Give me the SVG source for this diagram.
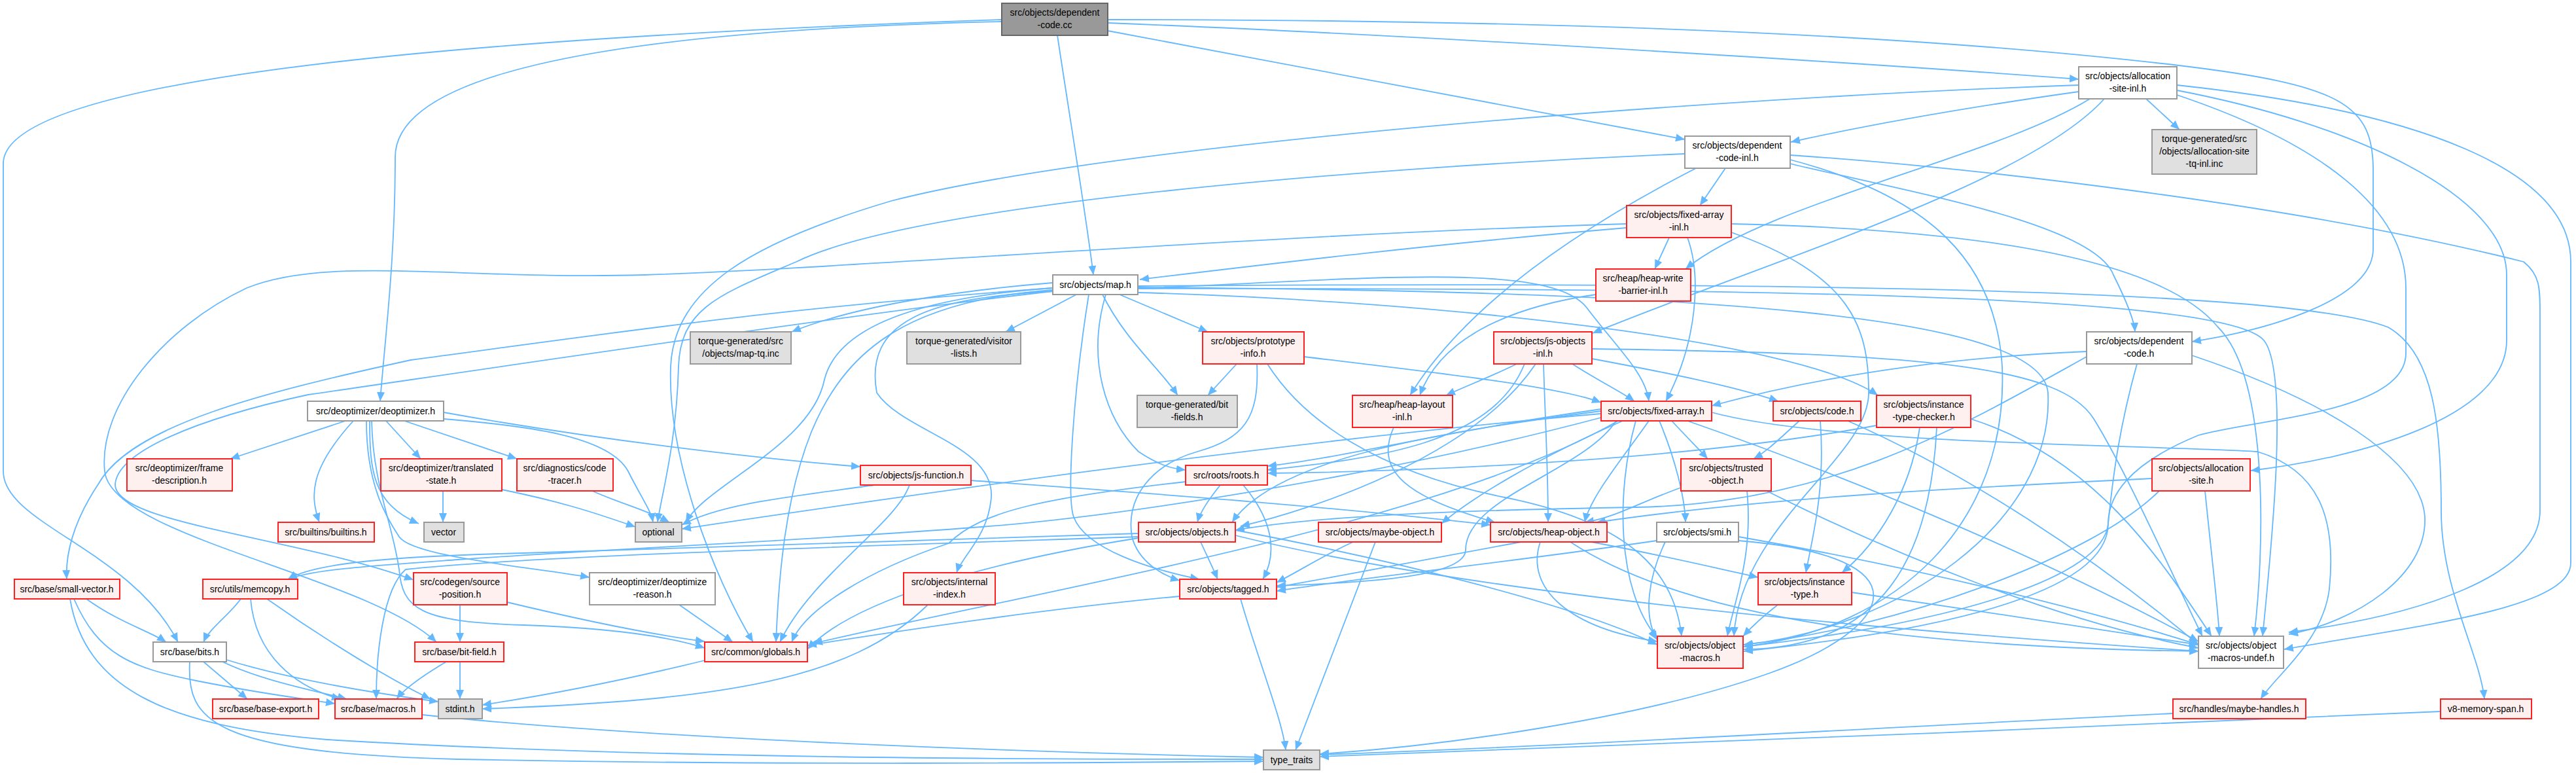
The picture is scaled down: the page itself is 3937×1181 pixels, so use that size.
<svg xmlns="http://www.w3.org/2000/svg" width="3937" height="1181" viewBox="0 0 3937 1181">
<defs>
<marker id="a" markerUnits="userSpaceOnUse" markerWidth="16" markerHeight="12" refX="14" refY="6" orient="auto"><path d="M0,0 L14,6 L0,12 Z" fill="#63b8ff"/></marker>
<style>
.e{fill:none;stroke:#63b8ff;stroke-width:1.8;marker-end:url(#a)}
.w{fill:#ffffff;stroke:#999999;stroke-width:2}
.r{fill:#fff0f0;stroke:#ff2020;stroke-width:2}
.g{fill:#e0e0e0;stroke:#999999;stroke-width:2}
.root{fill:#999999;stroke:#666666;stroke-width:2}
text{font-family:"Liberation Sans",Arial,sans-serif;font-size:14px;fill:#000;text-anchor:middle}
</style>
</defs>
<rect width="3937" height="1181" fill="#ffffff"/>
<g id="edges">
<path class="e" d="M1693,35 C2200,55 2900,100 3177,121"/>
<path class="e" d="M1693,47 C2000,105 2350,170 2575,213"/>
<path class="e" d="M1616,54 C1635,180 1660,330 1671,420"/>
<path class="e" d="M1531,33 C1000,45 604,100 604,240 C604,400 588,520 581,613"/>
<path class="e" d="M1531,30 C800,55 5,110 5,250 L5,720 C5,800 200,840 272,981"/>
<path class="e" d="M1693,30 C2400,30 2950,55 3330,100 C3580,130 3627,160 3627,260 L3627,380 C3627,460 3460,505 3350,522"/>
<path class="e" d="M3280,151 L3331,198"/>
<path class="e" d="M3177,140 C3000,165 2850,192 2737,217"/>
<path class="e" d="M3194,151 C3050,240 2700,310 2576,411"/>
<path class="e" d="M3216,151 C3100,280 2700,400 2434,509"/>
<path class="e" d="M3327,138 C3600,190 3831,300 3831,420 L3831,520 C3831,640 3600,700 3440,719"/>
<path class="e" d="M3327,130 C3700,170 3929,260 3929,400 L3929,860 C3929,930 3700,955 3491,992"/>
<path class="e" d="M3327,145 C3550,220 3677,320 3677,440 L3677,540 C3677,630 3450,640 3360,665 C3250,710 3222,760 3222,800 C3222,900 3000,960 2665,995"/>
<path class="e" d="M3177,130 C2600,150 1700,220 1362,307 C1150,370 1030,440 1025,560 C1020,700 1090,880 1151,981"/>
<path class="e" d="M2637,257 L2598,314"/>
<path class="e" d="M2736,250 C2900,290 3200,340 3230,420 C3250,460 3262,490 3263,507"/>
<path class="e" d="M2592,257 C2450,330 2250,450 2155,604"/>
<path class="e" d="M2575,235 C2100,255 1400,310 1217,400 C1100,450 1040,470 1037,560 C1034,680 1010,760 1005,798"/>
<path class="e" d="M2736,237 C3000,255 3500,310 3857,400 C3882,420 3882,440 3882,480 L3882,780 C3882,880 3700,940 3498,966"/>
<path class="e" d="M2736,244 C2950,300 3050,400 3060,560 C3070,800 2900,960 2665,988"/>
<path class="e" d="M2551,363 L2529,411"/>
<path class="e" d="M2486,348 C2200,372 1950,402 1742,427"/>
<path class="e" d="M2579,363 C2600,420 2595,520 2546,613"/>
<path class="e" d="M2486,342 C1900,360 1300,410 985,420 C700,428 500,390 377,440 C250,500 150,620 160,720 C170,820 560,880 667,981"/>
<path class="e" d="M2646,342 C3000,350 3300,390 3390,500 C3470,580 3460,850 3445,972"/>
<path class="e" d="M2646,355 C2830,420 2856,500 2856,600 C2856,700 2660,800 2650,972"/>
<path class="e" d="M2439,450 C2300,470 2200,520 2170,604"/>
<path class="e" d="M1609,432 C1450,445 1300,470 1210,507"/>
<path class="e" d="M1645,450 L1537,507"/>
<path class="e" d="M1711,450 L1846,507"/>
<path class="e" d="M1685,450 C1720,520 1770,560 1800,604"/>
<path class="e" d="M1609,440 C1200,470 1000,500 628,550 C400,600 200,650 150,740 C110,800 100,850 102,885"/>
<path class="e" d="M1739,441 C2100,425 2370,400 2425,470 C2470,530 2515,570 2520,613"/>
<path class="e" d="M1739,447 C2200,460 2750,520 2870,604"/>
<path class="e" d="M1690,450 C1660,550 1690,640 1740,690 C1770,710 1790,716 1812,718"/>
<path class="e" d="M1609,445 C1420,455 1320,490 1340,600 C1380,660 1520,680 1515,760 C1510,820 1470,850 1462,875"/>
<path class="e" d="M1609,440 C1400,455 1280,500 1260,580 C1240,680 1080,740 1048,798"/>
<path class="e" d="M1609,443 C1380,460 1290,540 1240,660 C1200,760 1190,880 1186,981"/>
<path class="e" d="M1664,450 C1640,600 1630,760 1641,790 C1660,840 1760,870 1833,885"/>
<path class="e" d="M1739,439 C2600,445 3120,480 3130,600 C3140,800 2900,960 2665,985"/>
<path class="e" d="M1739,441 C2700,440 3400,450 3460,520 C3500,570 3470,850 3458,972"/>
<path class="e" d="M1739,437 C2700,430 3500,440 3650,500 C3720,540 3731,650 3731,781 C3731,900 3790,1000 3797,1068"/>
<path class="e" d="M1609,445 C1300,480 700,570 471,603 C300,640 180,690 176,740 C175,800 450,820 632,886"/>
<path class="e" d="M1890,556 L1846,604"/>
<path class="e" d="M1993,545 C2200,570 2380,590 2447,615"/>
<path class="e" d="M1921,556 C1925,640 1900,670 1830,690 C1760,710 1720,760 1730,820 C1740,860 1780,880 1803,887"/>
<path class="e" d="M1937,556 C1990,640 2100,720 2300,760 C2500,800 2560,880 2570,972"/>
<path class="e" d="M2318,556 C2280,575 2240,590 2210,604"/>
<path class="e" d="M2403,556 C2440,580 2480,600 2498,613"/>
<path class="e" d="M2359,556 C2362,650 2366,720 2366,798"/>
<path class="e" d="M2433,548 C2550,570 2650,590 2718,613"/>
<path class="e" d="M2330,556 C2280,680 2100,700 1937,718"/>
<path class="e" d="M2347,556 C2250,700 2000,780 1896,804"/>
<path class="e" d="M2433,533 C2950,540 3150,560 3200,640 C3250,720 3330,900 3366,972"/>
<path class="e" d="M3189,537 C3000,545 2800,570 2616,620"/>
<path class="e" d="M3189,545 C3000,650 2800,770 2500,775 C2200,780 2000,790 1888,810"/>
<path class="e" d="M3350,543 C3550,610 3700,700 3706,790 C3710,880 3600,950 3498,969"/>
<path class="e" d="M3266,556 C3240,650 3230,720 3222,800 C3215,880 3000,950 2665,988"/>
<path class="e" d="M2555,643 C2580,670 2600,690 2610,701"/>
<path class="e" d="M2536,643 C2560,700 2575,760 2576,798"/>
<path class="e" d="M2520,643 C2480,700 2430,760 2422,798"/>
<path class="e" d="M2480,643 C2350,700 2250,760 2203,800"/>
<path class="e" d="M2447,628 C2200,660 1950,700 1883,798"/>
<path class="e" d="M2447,625 C2200,660 2050,700 1937,712"/>
<path class="e" d="M2470,643 C2420,720 2240,760 2240,840 C2240,880 2100,890 1951,895"/>
<path class="e" d="M2579,643 C2800,720 3100,840 3360,980"/>
<path class="e" d="M2500,643 C2470,750 2470,900 2533,975"/>
<path class="e" d="M2447,638 C2100,730 1700,790 1500,805 C1200,828 900,840 700,855 C560,865 480,870 440,885"/>
<path class="e" d="M2616,630 C2800,680 3300,680 3450,690 C3550,720 3570,800 3560,900 C3550,980 3480,1030 3455,1068"/>
<path class="e" d="M2447,632 C1900,680 1300,770 1042,808"/>
<path class="e" d="M2473,643 C2200,800 1600,900 1243,983"/>
<path class="e" d="M2750,643 C2720,670 2700,690 2680,701"/>
<path class="e" d="M2782,643 C2790,750 2770,820 2760,875"/>
<path class="e" d="M2824,643 C3000,720 3200,850 3360,985"/>
<path class="e" d="M2868,650 C2600,700 2200,720 1937,723"/>
<path class="e" d="M2934,653 C2920,750 2870,830 2815,875"/>
<path class="e" d="M2960,653 C2950,850 2880,990 2665,992"/>
<path class="e" d="M3012,640 C3200,700 3300,850 3380,972"/>
<path class="e" d="M2569,745 C2500,770 2470,790 2422,798"/>
<path class="e" d="M2670,750 C2680,850 2650,920 2640,972"/>
<path class="e" d="M2700,750 C2900,850 3150,950 3360,990"/>
<path class="e" d="M3289,731 C3000,745 2700,760 2440,798"/>
<path class="e" d="M3370,750 C3380,850 3390,930 3392,972"/>
<path class="e" d="M3300,750 C3200,850 2900,960 2665,985"/>
<path class="e" d="M528,643 L352,701"/>
<path class="e" d="M590,643 L643,701"/>
<path class="e" d="M618,643 L790,701"/>
<path class="e" d="M540,643 C470,720 475,760 488,798"/>
<path class="e" d="M565,643 C565,720 570,770 640,800"/>
<path class="e" d="M678,640 C800,650 930,665 960,720 C980,760 995,780 998,798"/>
<path class="e" d="M678,630 C900,670 1150,700 1315,713"/>
<path class="e" d="M560,643 C560,740 590,790 610,820 C630,850 800,865 901,882"/>
<path class="e" d="M568,643 C570,740 600,800 610,870 C615,930 640,950 800,955 C950,960 1030,975 1077,990"/>
<path class="e" d="M677,750 C677,770 677,785 677,798"/>
<path class="e" d="M767,748 C850,765 900,780 971,805"/>
<path class="e" d="M905,750 C950,770 990,780 1023,798"/>
<path class="e" d="M1337,741 C1200,760 1100,770 1042,802"/>
<path class="e" d="M1390,741 C1370,800 1240,880 1192,981"/>
<path class="e" d="M1484,734 C1700,750 2000,770 2278,802"/>
<path class="e" d="M1865,741 C1850,760 1835,780 1830,798"/>
<path class="e" d="M1900,741 C1950,800 1950,850 1930,885"/>
<path class="e" d="M1812,736 C1600,760 1500,780 1450,830 C1330,870 1230,930 1210,981"/>
<path class="e" d="M1835,828 C1845,850 1855,870 1861,885"/>
<path class="e" d="M1740,822 C1500,860 1300,920 1234,992"/>
<path class="e" d="M1888,810 C2100,850 2400,920 2533,985"/>
<path class="e" d="M1888,818 C2300,920 3000,970 3360,995"/>
<path class="e" d="M1740,815 C1300,830 1000,840 800,845 C600,850 480,860 440,885"/>
<path class="e" d="M1740,820 C1300,835 800,850 620,870 C585,900 575,1000 575,1068"/>
<path class="e" d="M2068,828 C2020,850 1990,870 1951,890"/>
<path class="e" d="M2102,828 L1980,1146"/>
<path class="e" d="M2325,828 C2150,860 2050,880 1951,897"/>
<path class="e" d="M2354,828 C2330,900 2400,960 2533,980"/>
<path class="e" d="M2400,828 C2600,960 3000,990 3360,995"/>
<path class="e" d="M2432,828 C2550,850 2630,870 2687,882"/>
<path class="e" d="M2532,826 C2300,860 2100,880 1951,903"/>
<path class="e" d="M2545,828 C2520,880 2510,940 2533,978"/>
<path class="e" d="M2657,820 C3000,880 3250,950 3360,985"/>
<path class="e" d="M2657,826 C2950,850 2900,960 2700,1030 C2500,1100 2200,1140 2017,1152"/>
<path class="e" d="M2717,924 C2690,945 2675,960 2664,972"/>
<path class="e" d="M2830,905 C3000,930 3200,960 3360,985"/>
<path class="e" d="M132,915 C180,950 230,965 254,981"/>
<path class="e" d="M113,915 C150,1000 200,1020 300,1040 C400,1060 480,1070 512,1075"/>
<path class="e" d="M107,915 C130,1050 250,1110 500,1130 C1000,1160 1600,1160 1931,1160"/>
<path class="e" d="M368,915 C350,940 320,960 311,981"/>
<path class="e" d="M383,915 C390,1000 450,1050 521,1068"/>
<path class="e" d="M408,915 C500,980 600,1040 658,1068"/>
<path class="e" d="M703,924 L703,981"/>
<path class="e" d="M775,920 C900,950 1000,970 1077,980"/>
<path class="e" d="M1038,924 L1120,981"/>
<path class="e" d="M1418,924 C1300,1040 1100,1070 737,1083"/>
<path class="e" d="M1803,911 C1600,930 1400,960 1234,986"/>
<path class="e" d="M1896,915 C1920,1000 1960,1100 1965,1146"/>
<path class="e" d="M311,1011 L378,1068"/>
<path class="e" d="M340,1011 C400,1040 480,1055 530,1068"/>
<path class="e" d="M346,1008 C450,1040 580,1060 670,1072"/>
<path class="e" d="M290,1011 C285,1100 320,1150 700,1160 C1200,1170 1700,1165 1931,1163"/>
<path class="e" d="M682,1011 C650,1030 620,1050 606,1068"/>
<path class="e" d="M703,1011 L703,1068"/>
<path class="e" d="M1077,1009 C950,1040 850,1060 737,1077"/>
<path class="e" d="M645,1092 C1000,1130 1600,1150 1931,1157"/>
<path class="e" d="M3321,1090 C2900,1110 2400,1140 2017,1153"/>
<path class="e" d="M3730,1087 C3200,1110 2500,1140 2017,1156"/>
<path class="e" d="M2130,653 C2100,720 2150,760 2285,798"/>
</g>
<g id="n-dcc"><rect class="root" x="1531" y="5" width="162" height="49"/><text x="1612" y="24">src/objects/dependent</text><text x="1612" y="43">-code.cc</text></g>
<g id="n-asi"><rect class="w" x="3177" y="102" width="150" height="49"/><text x="3252" y="121">src/objects/allocation</text><text x="3252" y="140">-site-inl.h</text></g>
<g id="n-dci"><rect class="w" x="2575" y="208" width="161" height="49"/><text x="2655" y="227">src/objects/dependent</text><text x="2655" y="246">-code-inl.h</text></g>
<g id="n-tqas"><rect class="g" x="3289" y="198" width="160" height="68"/><text x="3369" y="217">torque-generated/src</text><text x="3369" y="236">/objects/allocation-site</text><text x="3369" y="255">-tq-inl.inc</text></g>
<g id="n-fai"><rect class="r" x="2486" y="314" width="160" height="49"/><text x="2566" y="333">src/objects/fixed-array</text><text x="2566" y="352">-inl.h</text></g>
<g id="n-hwbi"><rect class="r" x="2439" y="411" width="145" height="49"/><text x="2511" y="430">src/heap/heap-write</text><text x="2511" y="449">-barrier-inl.h</text></g>
<g id="n-map"><rect class="w" x="1609" y="420" width="130" height="30"/><text x="1674" y="440">src/objects/map.h</text></g>
<g id="n-deopt"><rect class="w" x="470" y="613" width="208" height="30"/><text x="574" y="633">src/deoptimizer/deoptimizer.h</text></g>
<g id="n-dch"><rect class="w" x="3189" y="507" width="161" height="49"/><text x="3269" y="526">src/objects/dependent</text><text x="3269" y="545">-code.h</text></g>
<g id="n-maptq"><rect class="g" x="1055" y="507" width="154" height="49"/><text x="1132" y="526">torque-generated/src</text><text x="1132" y="545">/objects/map-tq.inc</text></g>
<g id="n-vis"><rect class="g" x="1386" y="507" width="174" height="49"/><text x="1473" y="526">torque-generated/visitor</text><text x="1473" y="545">-lists.h</text></g>
<g id="n-proto"><rect class="r" x="1838" y="507" width="155" height="49"/><text x="1915" y="526">src/objects/prototype</text><text x="1915" y="545">-info.h</text></g>
<g id="n-bitf"><rect class="g" x="1738" y="604" width="153" height="49"/><text x="1814" y="623">torque-generated/bit</text><text x="1814" y="642">-fields.h</text></g>
<g id="n-jsoi"><rect class="r" x="2283" y="507" width="150" height="49"/><text x="2358" y="526">src/objects/js-objects</text><text x="2358" y="545">-inl.h</text></g>
<g id="n-hli"><rect class="r" x="2067" y="604" width="153" height="49"/><text x="2143" y="623">src/heap/heap-layout</text><text x="2143" y="642">-inl.h</text></g>
<g id="n-fa"><rect class="r" x="2447" y="613" width="169" height="30"/><text x="2531" y="633">src/objects/fixed-array.h</text></g>
<g id="n-code"><rect class="r" x="2710" y="613" width="134" height="30"/><text x="2777" y="633">src/objects/code.h</text></g>
<g id="n-itc"><rect class="r" x="2868" y="604" width="144" height="49"/><text x="2940" y="623">src/objects/instance</text><text x="2940" y="642">-type-checker.h</text></g>
<g id="n-frame"><rect class="r" x="194" y="701" width="161" height="49"/><text x="274" y="720">src/deoptimizer/frame</text><text x="274" y="739">-description.h</text></g>
<g id="n-trans"><rect class="r" x="582" y="701" width="185" height="49"/><text x="674" y="720">src/deoptimizer/translated</text><text x="674" y="739">-state.h</text></g>
<g id="n-tracer"><rect class="r" x="790" y="701" width="147" height="49"/><text x="863" y="720">src/diagnostics/code</text><text x="863" y="739">-tracer.h</text></g>
<g id="n-jsf"><rect class="r" x="1315" y="711" width="169" height="30"/><text x="1400" y="731">src/objects/js-function.h</text></g>
<g id="n-roots"><rect class="r" x="1812" y="711" width="125" height="30"/><text x="1874" y="731">src/roots/roots.h</text></g>
<g id="n-trusted"><rect class="r" x="2569" y="701" width="138" height="49"/><text x="2638" y="720">src/objects/trusted</text><text x="2638" y="739">-object.h</text></g>
<g id="n-as"><rect class="r" x="3289" y="701" width="150" height="49"/><text x="3364" y="720">src/objects/allocation</text><text x="3364" y="739">-site.h</text></g>
<g id="n-builtins"><rect class="r" x="425" y="798" width="147" height="30"/><text x="498" y="818">src/builtins/builtins.h</text></g>
<g id="n-vector"><rect class="g" x="648" y="798" width="61" height="30"/><text x="678" y="818">vector</text></g>
<g id="n-optional"><rect class="g" x="971" y="798" width="71" height="30"/><text x="1006" y="818">optional</text></g>
<g id="n-objects"><rect class="r" x="1740" y="798" width="148" height="30"/><text x="1814" y="818">src/objects/objects.h</text></g>
<g id="n-mo"><rect class="r" x="2015" y="798" width="188" height="30"/><text x="2109" y="818">src/objects/maybe-object.h</text></g>
<g id="n-ho"><rect class="r" x="2278" y="798" width="178" height="30"/><text x="2367" y="818">src/objects/heap-object.h</text></g>
<g id="n-smi"><rect class="w" x="2532" y="798" width="125" height="30"/><text x="2594" y="818">src/objects/smi.h</text></g>
<g id="n-sv"><rect class="r" x="22" y="885" width="161" height="30"/><text x="102" y="905">src/base/small-vector.h</text></g>
<g id="n-memcopy"><rect class="r" x="310" y="885" width="145" height="30"/><text x="382" y="905">src/utils/memcopy.h</text></g>
<g id="n-srcpos"><rect class="r" x="632" y="875" width="143" height="49"/><text x="703" y="894">src/codegen/source</text><text x="703" y="913">-position.h</text></g>
<g id="n-dreason"><rect class="w" x="901" y="875" width="192" height="49"/><text x="997" y="894">src/deoptimizer/deoptimize</text><text x="997" y="913">-reason.h</text></g>
<g id="n-ii"><rect class="r" x="1381" y="875" width="140" height="49"/><text x="1451" y="894">src/objects/internal</text><text x="1451" y="913">-index.h</text></g>
<g id="n-tagged"><rect class="r" x="1803" y="885" width="148" height="30"/><text x="1877" y="905">src/objects/tagged.h</text></g>
<g id="n-it"><rect class="r" x="2687" y="875" width="143" height="49"/><text x="2758" y="894">src/objects/instance</text><text x="2758" y="913">-type.h</text></g>
<g id="n-bits"><rect class="w" x="234" y="981" width="112" height="30"/><text x="290" y="1001">src/base/bits.h</text></g>
<g id="n-bitfield"><rect class="r" x="634" y="981" width="136" height="30"/><text x="702" y="1001">src/base/bit-field.h</text></g>
<g id="n-globals"><rect class="r" x="1077" y="981" width="157" height="30"/><text x="1155" y="1001">src/common/globals.h</text></g>
<g id="n-om"><rect class="r" x="2533" y="972" width="131" height="49"/><text x="2598" y="991">src/objects/object</text><text x="2598" y="1010">-macros.h</text></g>
<g id="n-omu"><rect class="w" x="3360" y="972" width="130" height="49"/><text x="3425" y="991">src/objects/object</text><text x="3425" y="1010">-macros-undef.h</text></g>
<g id="n-baseexp"><rect class="r" x="325" y="1068" width="162" height="30"/><text x="406" y="1088">src/base/base-export.h</text></g>
<g id="n-macros"><rect class="r" x="512" y="1068" width="133" height="30"/><text x="578" y="1088">src/base/macros.h</text></g>
<g id="n-stdint"><rect class="g" x="670" y="1068" width="67" height="30"/><text x="703" y="1088">stdint.h</text></g>
<g id="n-mh"><rect class="r" x="3321" y="1068" width="203" height="30"/><text x="3422" y="1088">src/handles/maybe-handles.h</text></g>
<g id="n-span"><rect class="r" x="3730" y="1068" width="139" height="30"/><text x="3799" y="1088">v8-memory-span.h</text></g>
<g id="n-tt"><rect class="g" x="1931" y="1146" width="86" height="30"/><text x="1974" y="1166">type_traits</text></g>
</svg>
